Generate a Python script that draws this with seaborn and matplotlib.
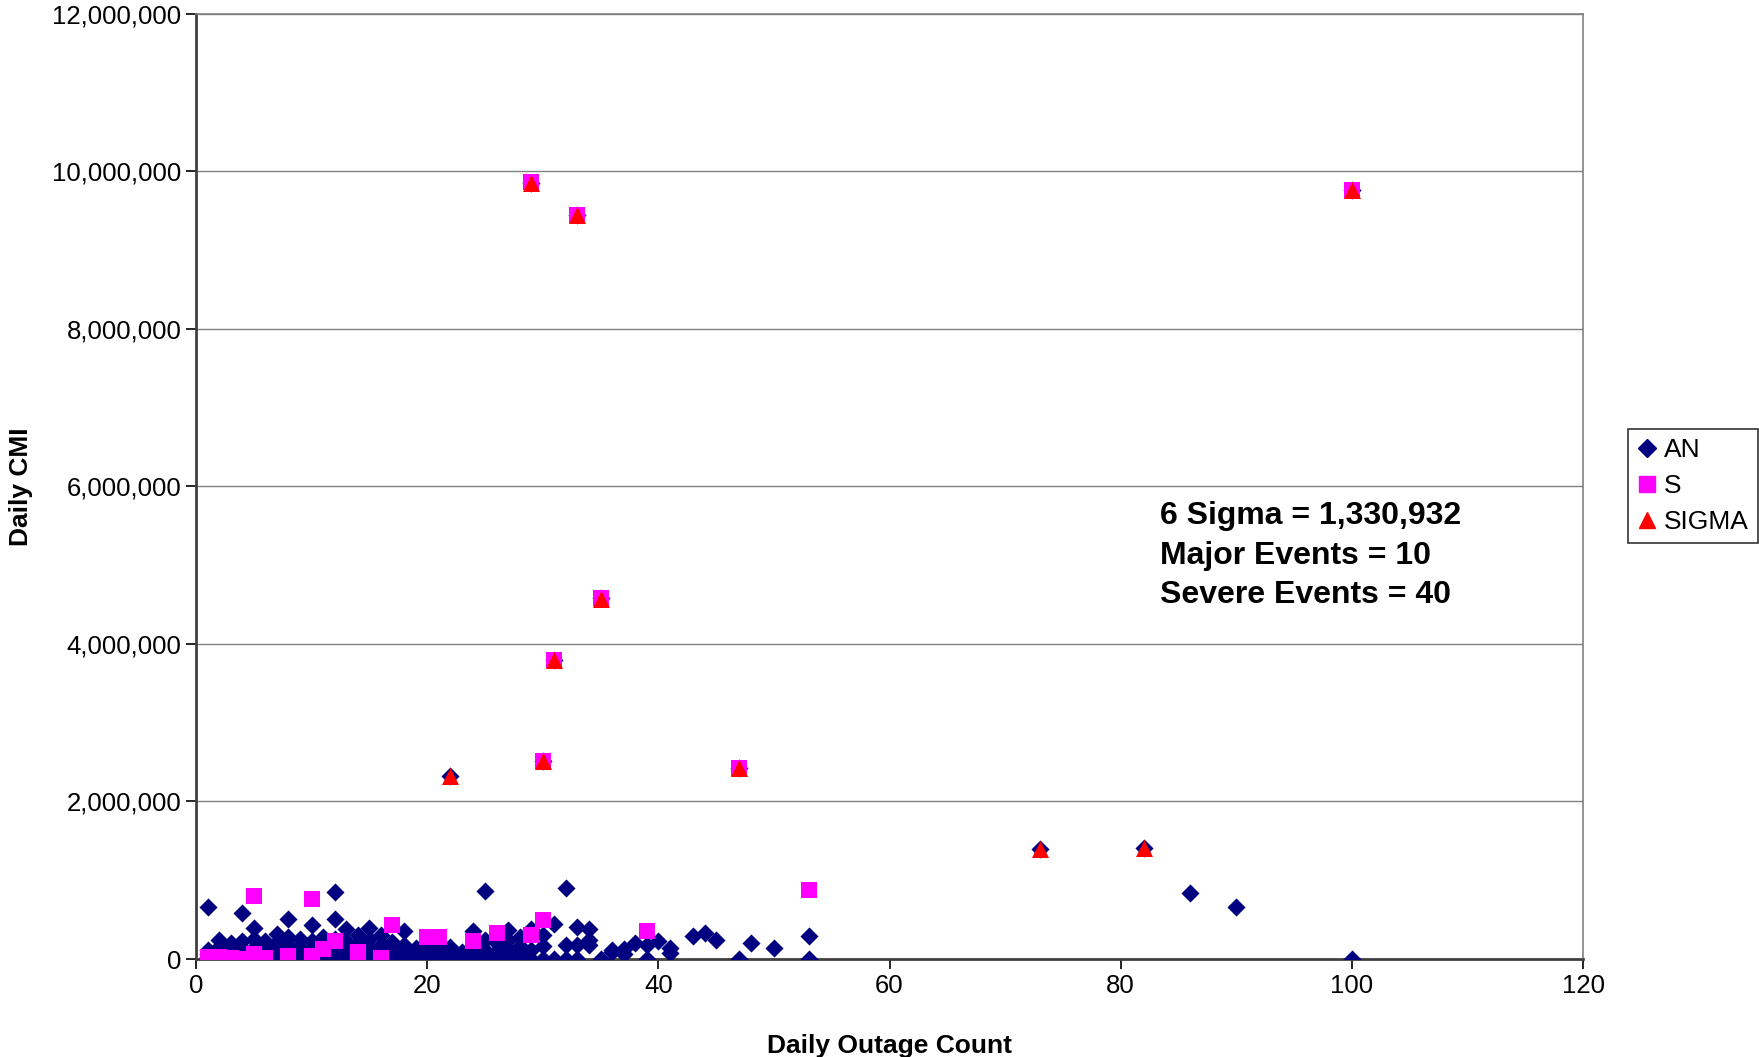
import numpy as np
import pandas as pd
import matplotlib.pyplot as plt
import seaborn as sns
from matplotlib.ticker import FuncFormatter
from matplotlib.lines import Line2D

# daily outage count -> list of daily CMI values (thousands) for the AN series
an_points = {
    1: [660, 120, 60, 20, 0], 2: [240, 150, 80, 30, 0], 3: [200, 100, 40, 0],
    4: [590, 230, 130, 50, 0], 5: [400, 250, 140, 60, 0], 6: [230, 170, 90, 10],
    7: [320, 220, 120, 40, 0], 8: [510, 280, 180, 100, 0], 9: [250, 150, 60, 0],
    10: [430, 230, 140, 70, 0], 11: [280, 190, 110, 30], 12: [850, 510, 260, 160, 60, 0],
    13: [380, 230, 120, 0], 14: [300, 200, 100, 40, 0], 15: [390, 260, 150, 60, 0],
    16: [300, 180, 90, 0], 17: [220, 130, 50, 0], 18: [350, 180, 100, 20, 0],
    19: [140, 80, 0], 20: [160, 100, 40, 0], 21: [180, 110, 60, 0],
    22: [2320, 150, 80, 20], 23: [90, 40, 0], 24: [350, 140, 60, 0],
    25: [860, 240, 120, 40, 0], 26: [200, 100, 0], 27: [370, 240, 130, 60, 0],
    28: [280, 170, 80, 0], 29: [9850, 380, 120, 0], 30: [2510, 300, 160, 0],
    31: [3800, 440, 0], 32: [905, 180, 0], 33: [9450, 410, 180, 0],
    34: [380, 240, 180], 35: [4580, 0], 36: [110, 90], 37: [130, 70],
    38: [200], 39: [180, 0], 40: [230], 41: [140, 80], 43: [290], 44: [330],
    45: [240], 47: [2420, 0], 48: [200], 50: [145], 53: [290, 0],
    73: [1400], 82: [1410], 86: [840], 90: [656], 100: [9760, 0],
}

s_points = {
    1: [30, 0], 2: [20], 3: [10], 4: [0], 5: [800, 60, 20], 6: [10], 8: [40],
    10: [765, 40], 11: [130], 12: [230], 14: [90], 16: [10], 17: [430],
    20: [280], 21: [280], 24: [230], 26: [330], 29: [9860, 300],
    30: [2520, 490], 31: [3790], 33: [9450], 35: [4580], 39: [360],
    47: [2430], 53: [870], 100: [9760],
}

sigma_x = [22, 29, 30, 31, 33, 35, 47, 73, 82, 100]
sigma_y = [2320, 9850, 2510, 3790, 9450, 4570, 2420, 1395, 1405, 9760]

annotation = ["6 Sigma = 1,330,932", "Major Events = 10", "Severe Events = 40"]


def to_frame(points, name):
    rows = [(x, v * 1000) for x, vals in points.items() for v in vals]
    df = pd.DataFrame(rows, columns=["count", "cmi"])
    df["series"] = name
    return df


an = to_frame(an_points, "AN")
s = to_frame(s_points, "S")
sig = pd.DataFrame({"count": sigma_x, "cmi": np.array(sigma_y) * 1000, "series": "SIGMA"})

sns.set_style("white")
plt.rcParams["font.family"] = ["Liberation Sans", "DejaVu Sans"]
plt.rcParams["text.color"] = "black"
plt.rcParams["axes.labelcolor"] = "black"
plt.rcParams["xtick.color"] = "black"
plt.rcParams["ytick.color"] = "black"

fig = plt.figure(figsize=(17.59, 10.57), dpi=100)
ax = fig.add_axes([0.1114, 0.0927, 0.9000 - 0.1114, 0.987 - 0.0927])

styles = [
    (an, "#000080", "D", 85),
    (s, "#FF00FF", "s", 125),
    (sig, "#FF0000", "^", 150),
]
for df, color, marker, size in styles:
    sns.scatterplot(data=df, x="count", y="cmi", color=color, marker=marker,
                    s=size, linewidth=0, ax=ax, legend=False, zorder=3)

ax.set_xlim(0, 120)
ax.set_ylim(0, 12_000_000)
ax.set_xticks(range(0, 121, 20))
ax.set_yticks(range(0, 12_000_001, 2_000_000))
ax.yaxis.set_major_formatter(FuncFormatter(lambda v, _: f"{int(v):,}"))
ax.grid(axis="y", color="#808080", linewidth=1)
ax.set_axisbelow(True)
for side in ["top", "right"]:
    ax.spines[side].set_color("#808080")
    ax.spines[side].set_linewidth(1.2)
for side in ["left", "bottom"]:
    ax.spines[side].set_color("#404040")
    ax.spines[side].set_linewidth(2)
ax.tick_params(axis="both", labelsize=18.5, direction="out", length=7,
               width=1.2, color="black", bottom=True, left=True)

ax.set_xlabel("Daily Outage Count", fontsize=19, fontweight="bold", labelpad=26)
ax.set_ylabel("Daily CMI", fontsize=19, fontweight="bold", labelpad=14)

ax.text(83.4, 5.12e6, "\n".join(annotation), fontsize=23, fontweight="bold",
        va="center", ha="left", linespacing=1.4)

handles = [
    Line2D([], [], linestyle="", marker="D", color="#000080", markersize=9),
    Line2D([], [], linestyle="", marker="s", color="#FF00FF", markersize=11),
    Line2D([], [], linestyle="", marker="^", color="#FF0000", markersize=12),
]
leg = fig.legend(handles, ["AN", "S", "SIGMA"], loc="center right",
                 bbox_to_anchor=(0.9995, 0.54), fontsize=19, frameon=True,
                 fancybox=False, edgecolor="black", handlelength=0.7,
                 handletextpad=0.3, borderpad=0.35, labelspacing=0.45,
                 borderaxespad=0)
leg.get_frame().set_linewidth(1.2)

fig.savefig("out.png", dpi=100)
